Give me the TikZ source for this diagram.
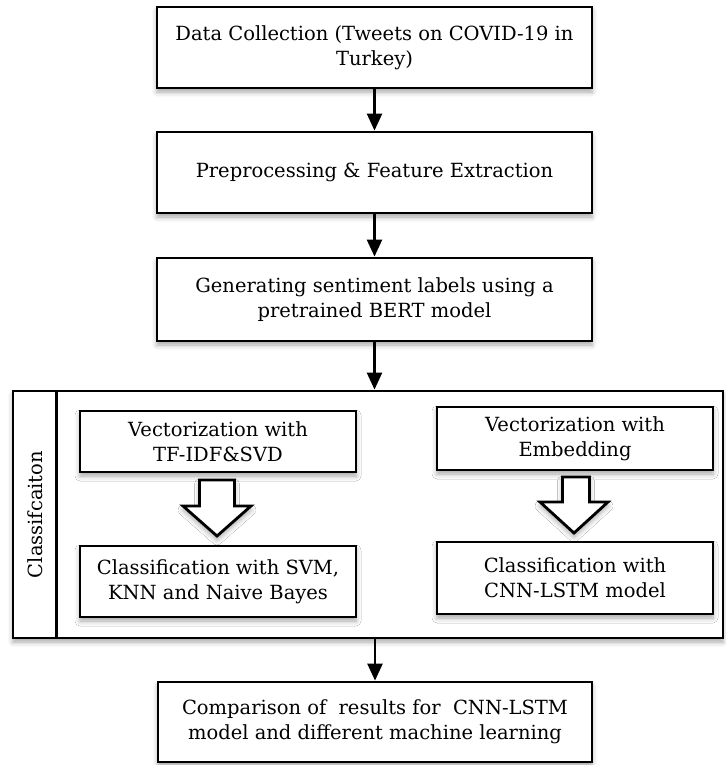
\documentclass[tikz,border=0pt]{standalone}
\usepackage{fontspec}
\setmainfont{DejaVu Serif}
\usetikzlibrary{arrows.meta,shadows.blur,calc}
\tikzset{
  softshadow/.style={blur shadow={shadow xshift=0pt, shadow yshift=-4pt, shadow opacity=35, shadow blur radius=5pt}},
  stepbox/.style={draw=black, line width=2.8pt, fill=white, align=center, inner sep=2pt,
    font=\fontsize{19.5}{25}\selectfont, softshadow},
  flow/.style={draw=black, line width=2.4pt, -{Triangle[length=17pt,width=15pt]}},
  hollow/.style={draw=black, line width=2.8pt, fill=white, line join=miter, softshadow},
}
\begin{document}
\begin{tikzpicture}[x=1pt, y=-1pt]
\useasboundingbox (0,0) rectangle (725,765);

% main pipeline
\node[stepbox, minimum width=435pt, minimum height=81pt] (collect) at (374.5,47.5)
  {Data Collection (Tweets on COVID-19 in\\Turkey)};
\node[stepbox, minimum width=435pt, minimum height=81pt] (prep) at (374.5,172.5)
  {Preprocessing \& Feature Extraction};
\node[stepbox, minimum width=435pt, minimum height=83pt] (label) at (374.5,299.5)
  {Generating sentiment labels using a\\pretrained BERT model};

% classification frame
\node[draw=black, line width=2.8pt, fill=white, minimum width=710pt, minimum height=247pt,
  inner sep=0pt, softshadow] (frame) at (368,514.5) {};
\draw[line width=2.8pt] ([xshift=45pt]frame.north west) -- ([xshift=45pt]frame.south west);
\node[rotate=90, font=\fontsize{19.5}{22}\selectfont] (frametitle) at (35.5,514.5) {Classifcaiton};

\node[stepbox, minimum width=276pt, minimum height=61pt] (tfidf) at (218,441.5)
  {Vectorization with\\TF-IDF\&SVD};
\node[stepbox, minimum width=276pt, minimum height=63pt] (embed) at (575,438.5)
  {Vectorization with\\Embedding};
\node[stepbox, minimum width=276pt, minimum height=71pt] (classic) at (218,581.5)
  {Classification with SVM,\\KNN and Naive Bayes};
\node[stepbox, minimum width=276pt, minimum height=72pt] (cnn) at (575,578)
  {Classification with\\CNN-LSTM model};

% hollow block arrows inside the frame
\draw[hollow] (199.5,480) -- (234.5,480) -- (234.5,506) -- (251,506) -- (217,536)
  -- (183,506) -- (199.5,506) -- cycle;
\draw[hollow] (562.5,477) -- (589.5,477) -- (589.5,502) -- (608,502) -- (574,533)
  -- (540,502) -- (562.5,502) -- cycle;

% final comparison
\node[stepbox, minimum width=434pt, minimum height=80pt] (compare) at (375,722)
  {Comparison of\ \ results for\ \ CNN-LSTM\\model and different machine learning};

% connectors
\draw[flow] (collect.south) -- (collect.south |- prep.north);
\draw[flow] (prep.south) -- (prep.south |- label.north);
\draw[flow] (label.south) -- (label.south |- frame.north);
\draw[flow] (frame.south -| compare.north) -- (compare.north);
\end{tikzpicture}
\end{document}
